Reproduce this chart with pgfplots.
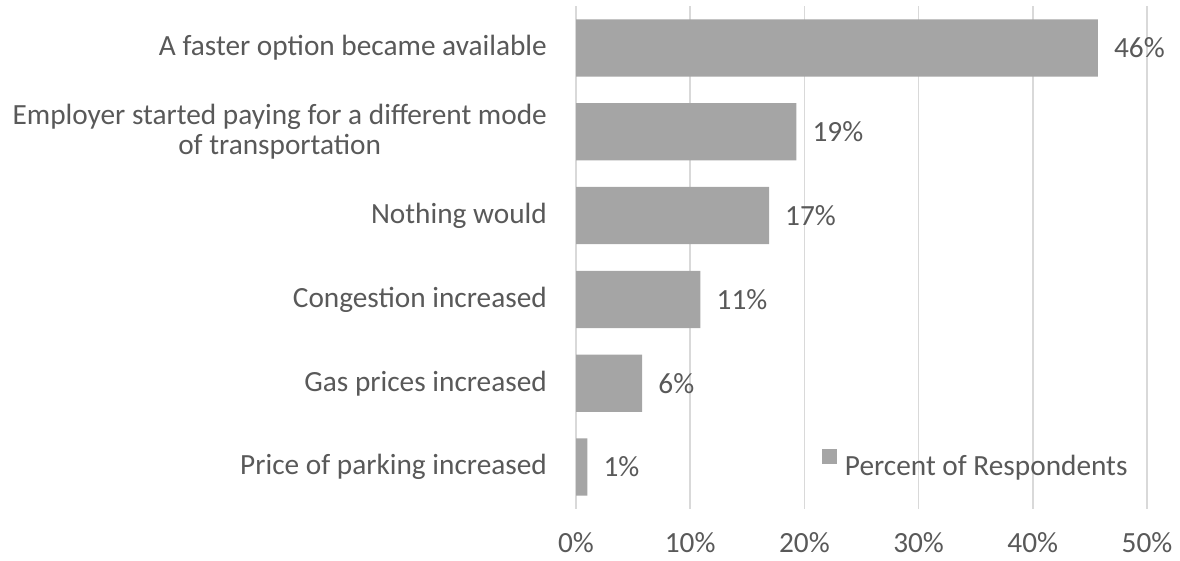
\documentclass[border=0pt]{standalone}
\usepackage{pgfplots}
\pgfplotsset{compat=1.18}
\usepackage{fontspec}
\setmainfont{Carlito}
\definecolor{barc}{HTML}{A5A5A5}
\definecolor{txt}{HTML}{595959}
\definecolor{grd}{HTML}{D9D9D9}
\newcommand\lbl{\fontsize{29.3pt}{30pt}\selectfont}
\begin{document}
\begin{tikzpicture}[x=1pt,y=1pt]
\path[use as bounding box] (0,0) rectangle (1180,560);
\begin{axis}[
  at={(576pt,51pt)}, anchor=south west,
  scale only axis, width=571pt, height=503pt,
  xbar, bar width=0.683, y dir=reverse,
  xmin=0, xmax=50, ymin=-0.5, ymax=5.5,
  clip=false,
  xtick={0,10,20,30,40,50},
  xticklabels={0\%,10\%,20\%,30\%,40\%,50\%},
  ytick={0,1,2,3,4,5},
  yticklabels={{A faster option became available},
    {Employer started paying for a different mode\\of transportation},
    {Nothing would},{Congestion increased},{Gas prices increased},
    {Price of parking increased}},
  major tick length=0pt,
  axis line style={draw=none},
  xmajorgrids, major grid style={grd, line width=1.5pt},
  xticklabel style={font=\lbl, text=txt, inner sep=0pt, yshift=-23.5pt},
  yticklabel style={font=\lbl, text=txt, inner sep=0pt, align=center, xshift=-29pt},
  point meta=x,
  nodes near coords={\pgfmathprintnumber[fixed,precision=0,assume math mode=true]{\pgfplotspointmeta}\%},
  every node near coord/.append style={anchor=west, inner sep=0pt, xshift=16pt, font=\lbl, text=txt},
  legend style={draw=none, fill=none, at={(axis cs:21.54,4.946)}, anchor=west,
    inner sep=0pt, outer sep=0pt, font=\lbl, text=txt,
    nodes={inner sep=0pt, text=txt},
    /tikz/every odd column/.append style={column sep=8pt}},
  legend image code/.code={\fill[barc] (0pt,2pt) rectangle (15pt,17pt);},
]
\addplot[fill=barc, draw=none] coordinates {(45.7,0) (19.3,1) (16.9,2) (10.9,3) (5.8,4) (1.0,5)};
\addlegendentry{Percent of Respondents}
\end{axis}
\end{tikzpicture}
\end{document}
